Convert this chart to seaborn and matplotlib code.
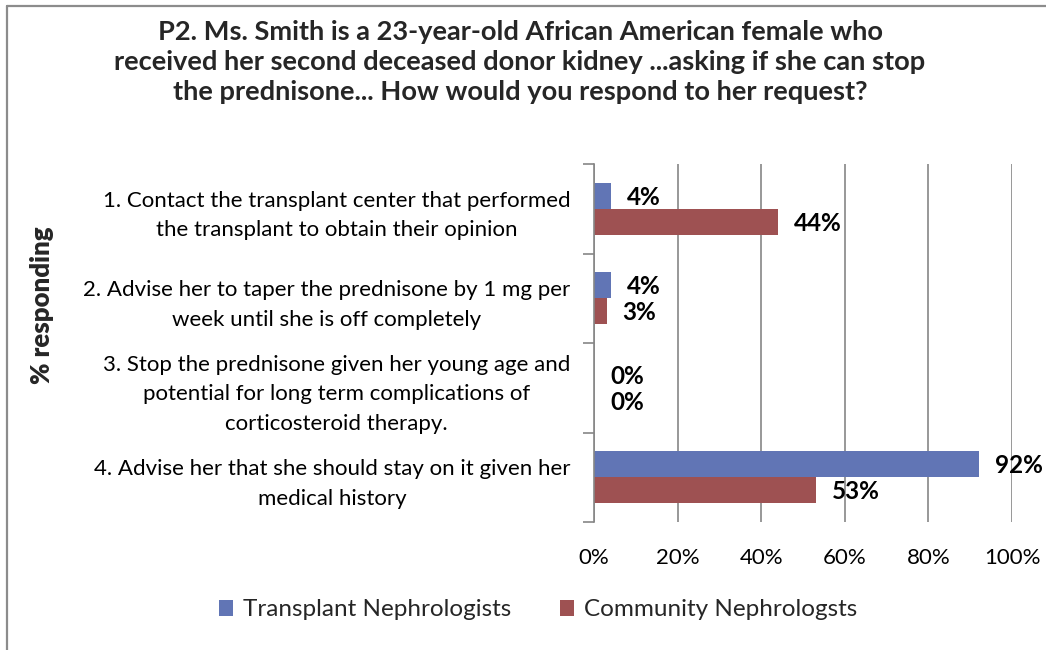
import matplotlib
matplotlib.use("Agg")
import matplotlib.pyplot as plt
from matplotlib.lines import Line2D
from matplotlib.patches import Rectangle
import seaborn as sns
import pandas as pd
import numpy as np

# Survey responses (% responding)
responses = [
    "1. Contact the transplant center that performed\nthe transplant to obtain their opinion",
    "2. Advise her to taper the prednisone by 1 mg per\nweek until she is off completely",
    "3. Stop the prednisone given her young age and\npotential for long term complications of\ncorticosteroid therapy.",
    "4. Advise her that she should stay on it given her\nmedical history",
]
groups = ["Transplant Nephrologists", "Community Nephrologsts"]
transplant_pct = [4, 4, 0, 92]
community_pct = [44, 3, 0, 53]
x_ticks = [0, 20, 40, 60, 80, 100]
x_tick_labels = ["0%", "20%", "40%", "60%", "80%", "100%"]

title = ("P2. Ms. Smith is a 23-year-old African American female who\n"
         "received her second deceased donor kidney ...asking if she can stop\n"
         "the prednisone... How would you respond to her request?")

colors = ["#6175B5", "#9E5152"]
grid_color = "#868686"

df = pd.DataFrame({
    "response": responses * 2,
    "group": [groups[0]] * len(responses) + [groups[1]] * len(responses),
    "pct": transplant_pct + community_pct,
})

sns.set_theme(style="white")
plt.rcParams["font.family"] = ["Lato", "DejaVu Sans"]

W, H = 1046, 650
fig = plt.figure(figsize=(W / 100, H / 100), dpi=100)
ax = fig.add_axes([594 / W, 1 - 522 / H, (1012 - 594) / W, (522 - 164) / H])

sns.barplot(data=df, y="response", x="pct", hue="group", order=responses,
            hue_order=groups, palette=colors, width=0.58, orient="h",
            saturation=1, ax=ax, legend=False, edgecolor="none")

ax.set_xlim(0, 100)
ax.set_ylim(len(responses) - 0.5, -0.5)

# vertical gridlines
ax.set_xticks(x_ticks)
ax.set_xticklabels(x_tick_labels, fontsize=16, color="black")
ax.tick_params(axis="x", length=0, pad=19)
ax.grid(axis="x", color=grid_color, linewidth=1.2)
ax.set_axisbelow(True)

# category labels centred between boundary ticks
ax.set_yticks(range(len(responses)))
ax.set_yticklabels(responses, fontsize=16, color="black", ma="center",
                   linespacing=1.58)
ax.tick_params(axis="y", which="major", length=0, pad=17)
ax.set_yticks(np.arange(-0.5, len(responses)), minor=True)
ax.tick_params(axis="y", which="minor", length=8, width=1.2, color=grid_color,
               direction="out", left=True)

for side in ["top", "right", "bottom"]:
    ax.spines[side].set_visible(False)
ax.spines["left"].set_color(grid_color)
ax.spines["left"].set_linewidth(1.2)

ax.set_xlabel("")
ax.set_ylabel("")

# value labels at bar ends
for container in ax.containers:
    for bar in container:
        val = bar.get_width()
        yc = bar.get_y() + bar.get_height() / 2
        ax.annotate(f"{val:.0f}%", xy=(val, yc), xytext=(11.5, -1),
                    textcoords="offset points", ha="left", va="center",
                    fontsize=17.5, fontweight="bold", color="black",
                    annotation_clip=False)

fig.text(520 / W, 1 - 62 / H, title, ha="center", va="center",
         fontsize=19.6, fontweight="bold", ma="center", linespacing=1.3)

fig.text(42 / W, 1 - 305 / H, "% responding", rotation=90, ha="center",
         va="center", fontsize=18.5, fontweight="heavy")

# legend
handles = [Rectangle((0, 0), 1, 1, facecolor=c, edgecolor="none") for c in colors]
fig.legend(handles, groups, loc="center", bbox_to_anchor=(538 / W, 1 - 610 / H),
           ncol=2, frameon=False, fontsize=17.5, handlelength=0.6,
           handleheight=0.6, handletextpad=0.4, columnspacing=2.0)

# outer frame (left and top edges)
fig.add_artist(Line2D([7 / W, 7 / W], [0, 1 - 6 / H], color="#8c8c8c",
                      linewidth=1.6, transform=fig.transFigure))
fig.add_artist(Line2D([7 / W, 1], [1 - 6 / H, 1 - 6 / H], color="#8c8c8c",
                      linewidth=1.6, transform=fig.transFigure))

fig.savefig("out.png", dpi=100)
